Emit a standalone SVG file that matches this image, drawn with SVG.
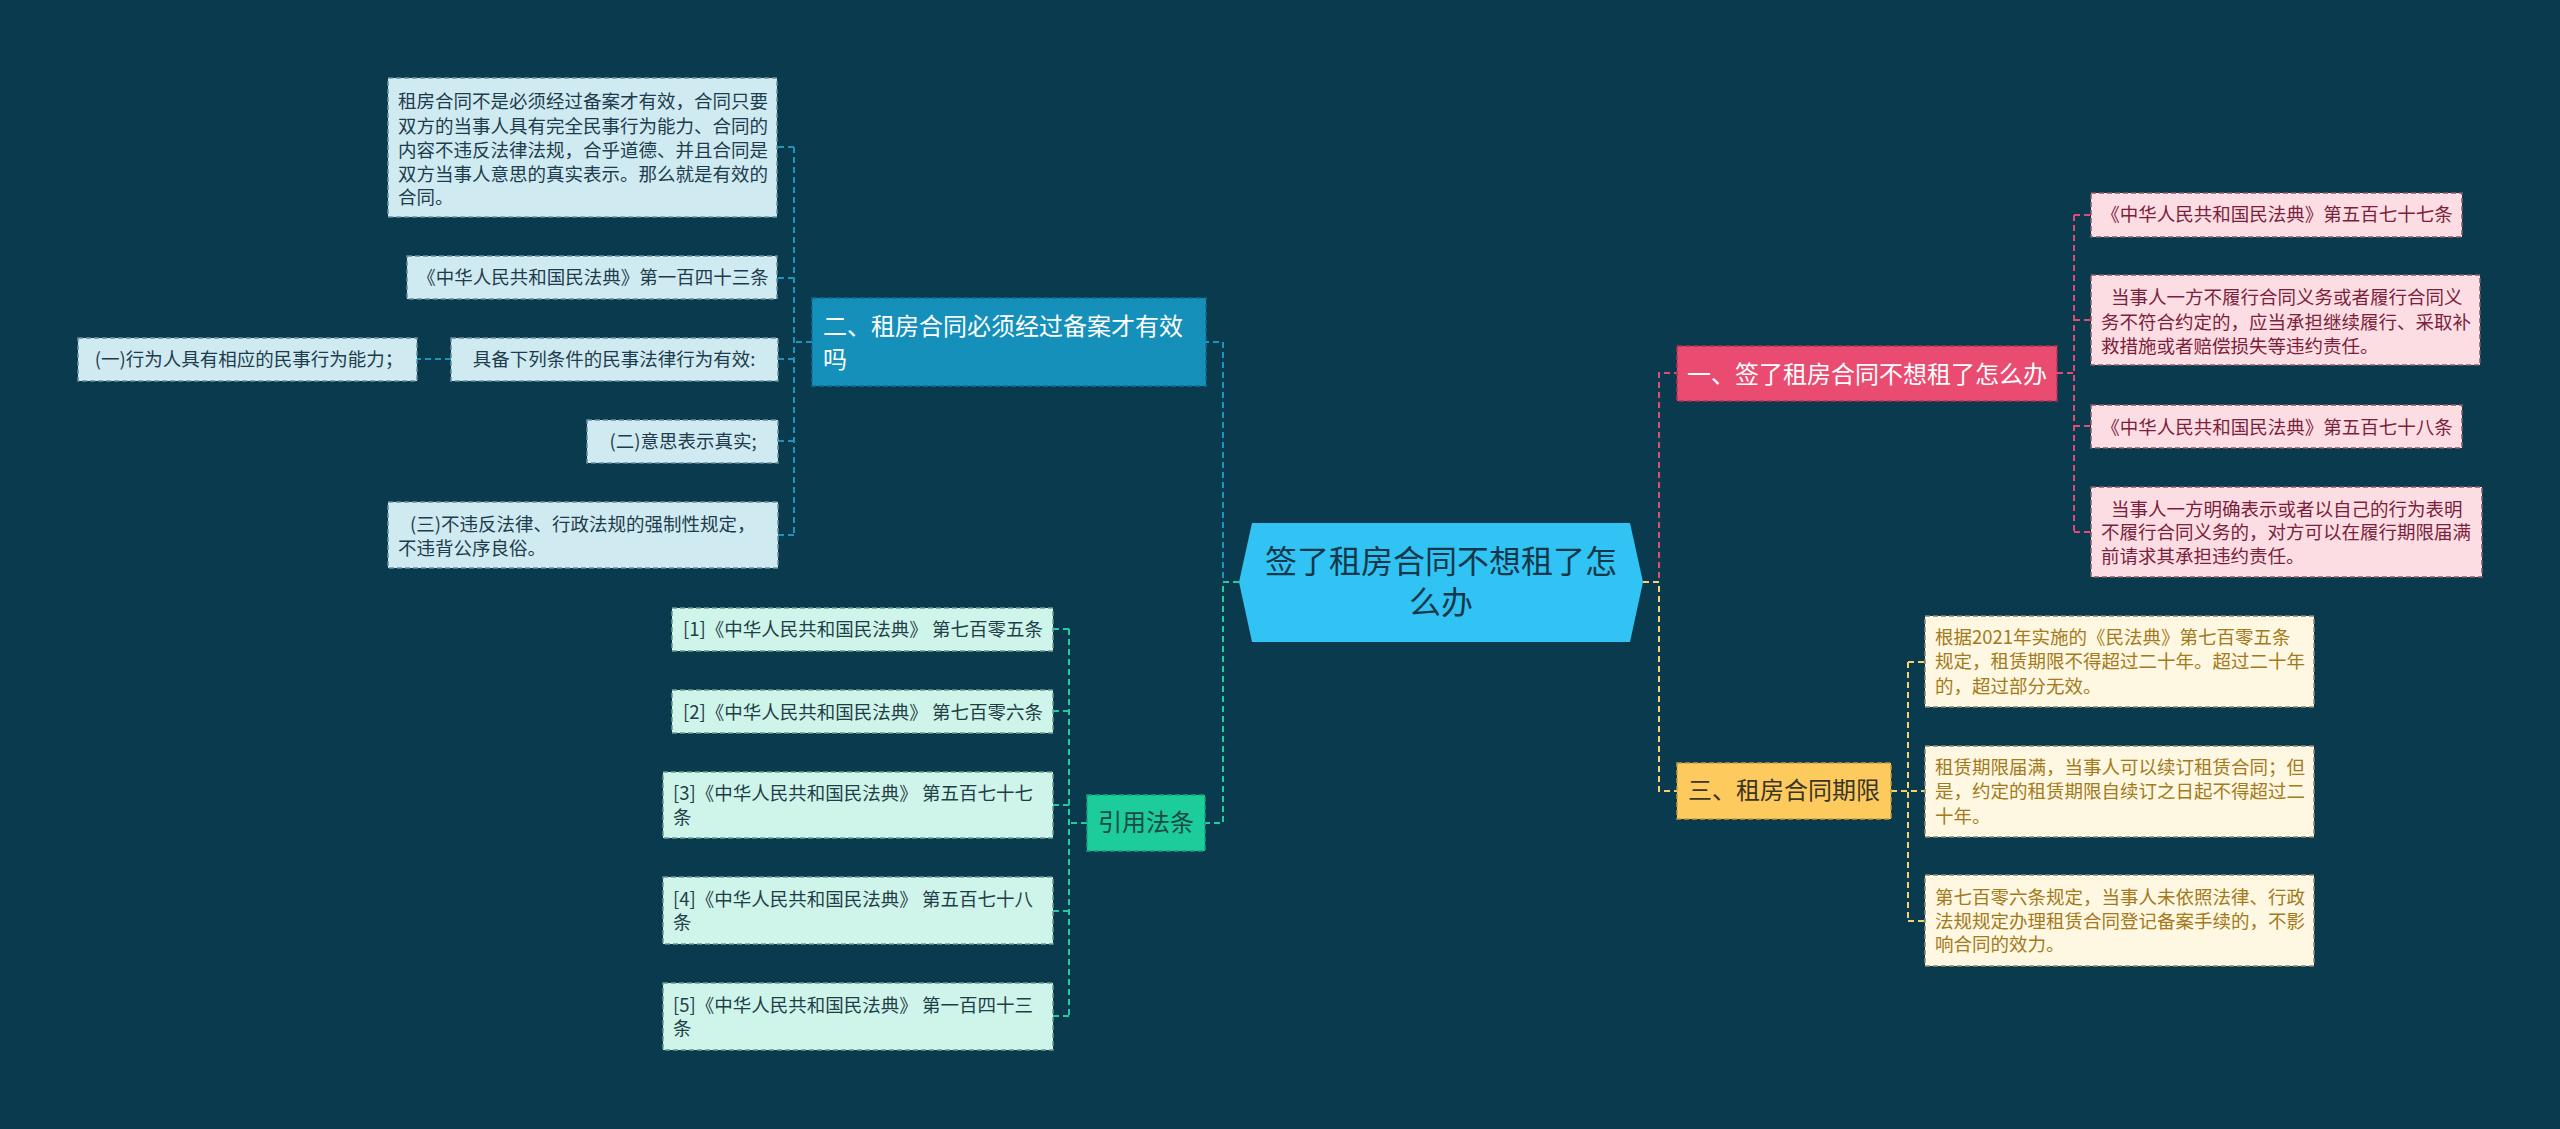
<svg xmlns="http://www.w3.org/2000/svg" width="2560" height="1129" viewBox="0 0 2560 1129">
<style>
text{font-family:"Noto Sans CJK SC","Noto Sans",sans-serif;}
.leaf{font-size:18.5px;}
.br{font-size:24px;}
.mid{text-anchor:middle;}
.c{fill:none;stroke-width:2;stroke-dasharray:6 4;}
.cb{stroke:#1e93bd;}
.cp{stroke:#e44b72;}
.cy{stroke:#f5d26a;}
.cg{stroke:#22cba0;}
.lb rect{fill:#d0eaf2;stroke:#6a8f9c;stroke-width:1.5;stroke-dasharray:5 3;}
.lb text{fill:#1e3d4c;}
.lp rect{fill:#fcdde3;stroke:#8a5a66;stroke-width:1.5;stroke-dasharray:5 3;}
.lp text{fill:#7a1f3c;}
.ly rect{fill:#fef7e1;stroke:#8f8670;stroke-width:1.5;stroke-dasharray:5 3;}
.ly text{fill:#a37a1c;}
.lg rect{fill:#cff4ea;stroke:#6a9a90;stroke-width:1.5;stroke-dasharray:5 3;}
.lg text{fill:#1f3f48;}
</style>
<rect width="2560" height="1129" fill="#0a3a4d"/>
<g id="connectors">
<path class="c cb" d="M1239 582 H1223 V342 H1206"/>
<path class="c cb" d="M812 342 H794"/>
<path class="c cb" d="M794 147 V535"/>
<path class="c cb" d="M794 147 H777 M794 278 H777 M794 359 H778 M794 441 H778 M794 535 H778"/>
<path class="c cb" d="M451 359 H417"/>
<path class="c cp" d="M1643 582 H1659 V373 H1677"/>
<path class="c cp" d="M2057 373 H2074"/>
<path class="c cp" d="M2074 215 V532"/>
<path class="c cp" d="M2074 215 H2091 M2074 320 H2091 M2074 426 H2091 M2074 532 H2091"/>
<path class="c cy" d="M1643 582 H1659 V791 H1677"/>
<path class="c cy" d="M1891 791 H1925"/>
<path class="c cy" d="M1908 662 V921"/>
<path class="c cy" d="M1908 662 H1925 M1908 921 H1925"/>
<path class="c cg" d="M1239 582 H1223 V823 H1205"/>
<path class="c cg" d="M1087 823 H1069"/>
<path class="c cg" d="M1069 629 V1016"/>
<path class="c cg" d="M1069 629 H1053 M1069 711 H1053 M1069 805 H1053 M1069 911 H1053 M1069 1016 H1053"/>
</g>
<g id="center">
<polygon points="1252,523 1630,523 1643,582 1630,642 1252,642 1239,582" fill="#30c3f3"/>
<text x="1441" y="573" class="mid" font-size="32" fill="#14384a">签了租房合同不想租了怎</text>
<text x="1441" y="614" class="mid" font-size="32" fill="#14384a">么办</text>
</g>
<g id="branch-2">
<rect x="812" y="298" width="394" height="88" fill="#1590bb" stroke="#0f6e92" stroke-width="1.5" stroke-dasharray="5 3"/>
<text x="823" y="335" class="br" fill="#ffffff">二、租房合同必须经过备案才有效</text>
<text x="823" y="368" class="br" fill="#ffffff">吗</text>
</g>
<g id="leaf-2-1" class="lb">
<rect x="388" y="78" width="389" height="139"/>
<text x="398" y="108" class="leaf">租房合同不是必须经过备案才有效，合同只要</text>
<text x="398" y="133" class="leaf">双方的当事人具有完全民事行为能力、合同的</text>
<text x="398" y="157" class="leaf">内容不违反法律法规，合乎道德、并且合同是</text>
<text x="398" y="181" class="leaf">双方当事人意思的真实表示。那么就是有效的</text>
<text x="398" y="204" class="leaf">合同。</text>
</g>
<g id="leaf-2-2" class="lb">
<rect x="407" y="256" width="370" height="43"/>
<text x="593" y="284" class="leaf mid">《中华人民共和国民法典》第一百四十三条</text>
</g>
<g id="leaf-2-3" class="lb">
<rect x="451" y="338" width="327" height="43"/>
<text x="614" y="366" class="leaf mid">具备下列条件的民事法律行为有效:</text>
</g>
<g id="leaf-2-3-1" class="lb">
<rect x="78" y="338" width="339" height="43"/>
<text x="249" y="366" class="leaf mid">(一)行为人具有相应的民事行为能力；</text>
</g>
<g id="leaf-2-4" class="lb">
<rect x="587" y="420" width="191" height="43"/>
<text x="683" y="448" class="leaf mid">(二)意思表示真实;</text>
</g>
<g id="leaf-2-5" class="lb">
<rect x="388" y="502" width="390" height="66"/>
<text x="410" y="531" class="leaf">(三)不违反法律、行政法规的强制性规定，</text>
<text x="398" y="555" class="leaf">不违背公序良俗。</text>
</g>
<g id="branch-1">
<rect x="1677" y="346" width="380" height="55" fill="#ea4b71" stroke="#b8304f" stroke-width="1.5" stroke-dasharray="5 3"/>
<text x="1867" y="383" class="br mid" fill="#ffffff">一、签了租房合同不想租了怎么办</text>
</g>
<g id="leaf-1-1" class="lp">
<rect x="2091" y="193" width="371" height="44"/>
<text x="2277" y="221" class="leaf mid">《中华人民共和国民法典》第五百七十七条</text>
</g>
<g id="leaf-1-2" class="lp">
<rect x="2091" y="275" width="389" height="90"/>
<text x="2111" y="304" class="leaf">当事人一方不履行合同义务或者履行合同义</text>
<text x="2101" y="329" class="leaf">务不符合约定的，应当承担继续履行、采取补</text>
<text x="2101" y="353" class="leaf">救措施或者赔偿损失等违约责任。</text>
</g>
<g id="leaf-1-3" class="lp">
<rect x="2091" y="405" width="371" height="43"/>
<text x="2277" y="434" class="leaf mid">《中华人民共和国民法典》第五百七十八条</text>
</g>
<g id="leaf-1-4" class="lp">
<rect x="2091" y="487" width="391" height="90"/>
<text x="2111" y="516" class="leaf">当事人一方明确表示或者以自己的行为表明</text>
<text x="2101" y="539" class="leaf">不履行合同义务的，对方可以在履行期限届满</text>
<text x="2101" y="563" class="leaf">前请求其承担违约责任。</text>
</g>
<g id="branch-3">
<rect x="1677" y="763" width="214" height="56" fill="#fdca5e" stroke="#c99b35" stroke-width="1.5" stroke-dasharray="5 3"/>
<text x="1784" y="799" class="br mid" fill="#3b3526">三、租房合同期限</text>
</g>
<g id="leaf-3-1" class="ly">
<rect x="1925" y="616" width="389" height="91"/>
<text x="1935" y="644" class="leaf">根据2021年实施的《民法典》第七百零五条</text>
<text x="1935" y="668" class="leaf">规定，租赁期限不得超过二十年。超过二十年</text>
<text x="1935" y="693" class="leaf">的，超过部分无效。</text>
</g>
<g id="leaf-3-2" class="ly">
<rect x="1925" y="746" width="389" height="91"/>
<text x="1935" y="774" class="leaf">租赁期限届满，当事人可以续订租赁合同；但</text>
<text x="1935" y="798" class="leaf">是，约定的租赁期限自续订之日起不得超过二</text>
<text x="1935" y="823" class="leaf">十年。</text>
</g>
<g id="leaf-3-3" class="ly">
<rect x="1925" y="875" width="389" height="91"/>
<text x="1935" y="904" class="leaf">第七百零六条规定，当事人未依照法律、行政</text>
<text x="1935" y="928" class="leaf">法规规定办理租赁合同登记备案手续的，不影</text>
<text x="1935" y="951" class="leaf">响合同的效力。</text>
</g>
<g id="branch-4">
<rect x="1087" y="795" width="118" height="56" fill="#1ccc9b" stroke="#14a07a" stroke-width="1.5" stroke-dasharray="5 3"/>
<text x="1146" y="831" class="br mid" fill="#1b4a42">引用法条</text>
</g>
<g id="leaf-4-1" class="lg">
<rect x="672" y="608" width="381" height="43"/>
<text x="863" y="636" class="leaf mid">[1]《中华人民共和国民法典》 第七百零五条</text>
</g>
<g id="leaf-4-2" class="lg">
<rect x="672" y="690" width="381" height="43"/>
<text x="863" y="719" class="leaf mid">[2]《中华人民共和国民法典》 第七百零六条</text>
</g>
<g id="leaf-4-3" class="lg">
<rect x="663" y="772" width="390" height="66"/>
<text x="673" y="800" class="leaf">[3]《中华人民共和国民法典》 第五百七十七</text>
<text x="673" y="824" class="leaf">条</text>
</g>
<g id="leaf-4-4" class="lg">
<rect x="663" y="877" width="390" height="67"/>
<text x="673" y="906" class="leaf">[4]《中华人民共和国民法典》 第五百七十八</text>
<text x="673" y="929" class="leaf">条</text>
</g>
<g id="leaf-4-5" class="lg">
<rect x="663" y="983" width="390" height="67"/>
<text x="673" y="1012" class="leaf">[5]《中华人民共和国民法典》 第一百四十三</text>
<text x="673" y="1035" class="leaf">条</text>
</g>
</svg>
